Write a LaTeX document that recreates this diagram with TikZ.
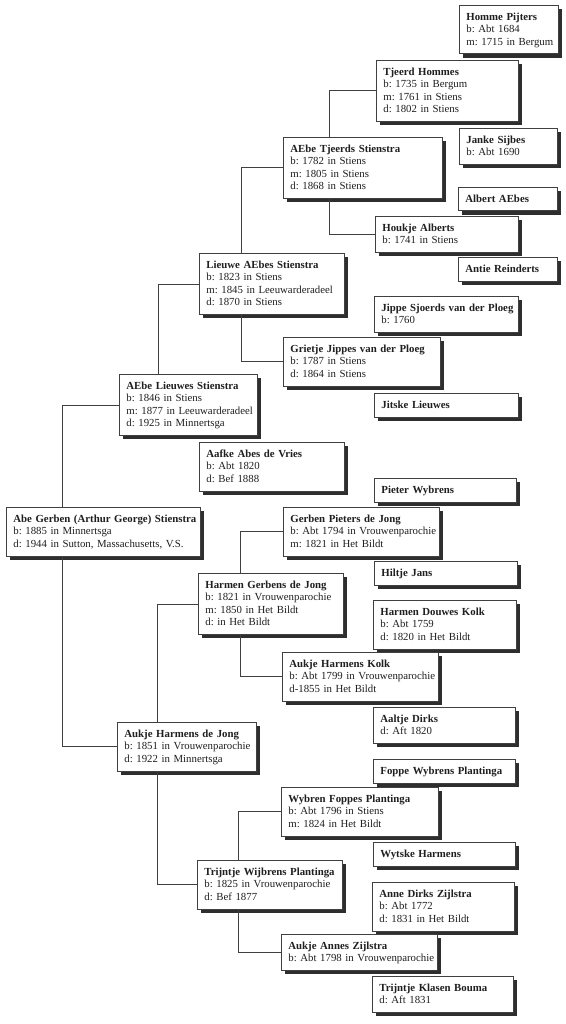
\documentclass[tikz,border=0pt]{standalone}
\usepackage{fontspec}
\setmainfont{Liberation Serif}
\usetikzlibrary{shadows}
\frenchspacing
\newcommand\lstrut{\rule[-3.2pt]{0pt}{12.5pt}}
\newcommand\NM[1]{\mbox{\bfseries\lstrut #1}}
\newcommand\LN[1]{\mbox{\lstrut #1}}
\tikzset{
  pbox/.style={draw=black!75, line width=0.8pt, fill=white, anchor=north west,
    inner xsep=7pt, inner ysep=5.5pt, align=left, text=black!88,
    font=\fontsize{10.8}{12.5}\selectfont\frenchspacing,
    drop shadow={shadow xshift=4pt, shadow yshift=-4pt, fill=black!82, opacity=1}},
  link/.style={draw=black!75, line width=0.8pt}
}
\newcommand\pb[5]{\node[pbox, text width=#4pt-14pt] (#1) at (#2pt,-#3pt) {#5};}
\begin{document}
\begin{tikzpicture}
\useasboundingbox (0,0) rectangle (565pt,-1024pt);
\fill[white] (0,0) rectangle (565pt,-1024pt);
\pb{homme}{459}{5}{99}{\NM{Homme Pijters}\\\LN{b: Abt 1684}\\\LN{m: 1715 in Bergum}}
\pb{tjeerd}{376}{60}{142}{\NM{Tjeerd Hommes}\\\LN{b: 1735 in Bergum}\\\LN{m: 1761 in Stiens}\\\LN{d: 1802 in Stiens}}
\pb{janke}{459}{128}{98}{\NM{Janke Sijbes}\\\LN{b: Abt 1690}}
\pb{aebeT}{283}{137}{159}{\NM{AEbe Tjeerds Stienstra}\\\LN{b: 1782 in Stiens}\\\LN{m: 1805 in Stiens}\\\LN{d: 1868 in Stiens}}
\pb{albert}{458}{187}{99}{\NM{Albert AEbes}}
\pb{houkje}{375}{216}{143}{\NM{Houkje Alberts}\\\LN{b: 1741 in Stiens}}
\pb{antie}{458}{257}{99}{\NM{Antie Reinderts}}
\pb{lieuwe}{199}{253}{145}{\NM{Lieuwe AEbes Stienstra}\\\LN{b: 1823 in Stiens}\\\LN{m: 1845 in Leeuwarderadeel}\\\LN{d: 1870 in Stiens}}
\pb{jippe}{374}{296}{144}{\NM{Jippe Sjoerds van der Ploeg}\\\LN{b: 1760}}
\pb{grietje}{283}{337}{157}{\NM{Grietje Jippes van der Ploeg}\\\LN{b: 1787 in Stiens}\\\LN{d: 1864 in Stiens}}
\pb{jitske}{374}{393}{144}{\NM{Jitske Lieuwes}}
\pb{aebeL}{119}{374}{138}{\NM{AEbe Lieuwes Stienstra}\\\LN{b: 1846 in Stiens}\\\LN{m: 1877 in Leeuwarderadeel}\\\LN{d: 1925 in Minnertsga}}
\pb{aafke}{199}{442}{145}{\NM{Aafke Abes de Vries}\\\LN{b: Abt 1820}\\\LN{d: Bef 1888}}
\pb{abe}{6}{507}{194}{\NM{Abe Gerben (Arthur George) Stienstra}\\\LN{b: 1885 in Minnertsga}\\\LN{d: 1944 in Sutton, Massachusetts, V.S.}}
\pb{pieter}{374}{478}{142}{\NM{Pieter Wybrens}}
\pb{gerben}{283}{507}{156}{\NM{Gerben Pieters de Jong}\\\LN{b: Abt 1794 in Vrouwenparochie}\\\LN{m: 1821 in Het Bildt}}
\pb{hiltje}{374}{561}{143}{\NM{Hiltje Jans}}
\pb{harmenG}{198}{573}{145}{\NM{Harmen Gerbens de Jong}\\\LN{b: 1821 in Vrouwenparochie}\\\LN{m: 1850 in Het Bildt}\\\LN{d: in Het Bildt}}
\pb{harmenD}{373}{600}{143}{\NM{Harmen Douwes Kolk}\\\LN{b: Abt 1759}\\\LN{d: 1820 in Het Bildt}}
\pb{aukjeK}{282}{652}{156}{\NM{Aukje Harmens Kolk}\\\LN{b: Abt 1799 in Vrouwenparochie}\\\LN{d-1855 in Het Bildt}}
\pb{aaltje}{373}{707}{142}{\NM{Aaltje Dirks}\\\LN{d: Aft 1820}}
\pb{aukjeDJ}{117}{722}{139}{\NM{Aukje Harmens de Jong}\\\LN{b: 1851 in Vrouwenparochie}\\\LN{d: 1922 in Minnertsga}}
\pb{foppe}{373}{759}{142}{\NM{Foppe Wybrens Plantinga}}
\pb{wybren}{281}{787}{157}{\NM{Wybren Foppes Plantinga}\\\LN{b: Abt 1796 in Stiens}\\\LN{m: 1824 in Het Bildt}}
\pb{wytske}{373}{842}{142}{\NM{Wytske Harmens}}
\pb{trijntjeW}{197}{860}{145}{\NM{Trijntje Wijbrens Plantinga}\\\LN{b: 1825 in Vrouwenparochie}\\\LN{d: Bef 1877}}
\pb{anne}{372}{882}{142}{\NM{Anne Dirks Zijlstra}\\\LN{b: Abt 1772}\\\LN{d: 1831 in Het Bildt}}
\pb{aukjeA}{281}{934}{156}{\NM{Aukje Annes Zijlstra}\\\LN{b: Abt 1798 in Vrouwenparochie}}
\pb{trijntjeK}{372}{976}{141}{\NM{Trijntje Klasen Bouma}\\\LN{d: Aft 1831}}
% connectors
\draw[link] ([xshift=56pt]abe.north west) |- (aebeL.west);
\draw[link] ([xshift=56pt]abe.south west) |- (aukjeDJ.west);
\draw[link] ([xshift=39pt]aebeL.north west) |- (lieuwe.west);
\draw[link] ([xshift=42pt]lieuwe.north west) |- (aebeT.west);
\draw[link] ([xshift=42pt]lieuwe.south west) |- (grietje.west);
\draw[link] ([xshift=46pt]aebeT.north west) |- (tjeerd.west);
\draw[link] ([xshift=46pt]aebeT.south west) |- (houkje.west);
\draw[link] ([xshift=40pt]aukjeDJ.north west) |- (harmenG.west);
\draw[link] ([xshift=40pt]aukjeDJ.south west) |- (trijntjeW.west);
\draw[link] ([xshift=42pt]harmenG.north west) |- (gerben.west);
\draw[link] ([xshift=42pt]harmenG.south west) |- (aukjeK.west);
\draw[link] ([xshift=41pt]trijntjeW.north west) |- (wybren.west);
\draw[link] ([xshift=41pt]trijntjeW.south west) |- (aukjeA.west);
\end{tikzpicture}
\end{document}
